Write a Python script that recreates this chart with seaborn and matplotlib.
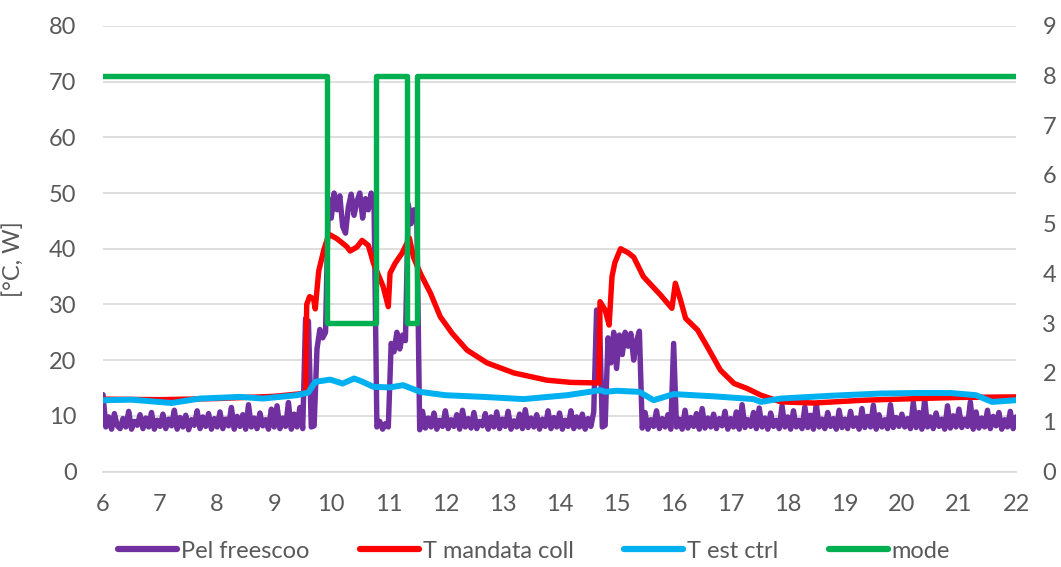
import numpy as np
import pandas as pd
import matplotlib
matplotlib.use("Agg")
import matplotlib.pyplot as plt
import seaborn as sns

# ---------------- data ----------------
# Pel freescoo [W], 3-minute samples, one list per hour (6:00 ... 21:57, then 22:00)
p06 = [13.8, 8.0, 9.8, 7.6, 10.4, 8.2, 7.7, 9.5, 8.0, 10.8, 7.6, 9.0, 8.3, 10.2, 7.7, 9.6, 8.0, 10.6, 7.6, 9.2]
p07 = [8.1, 10.3, 7.7, 9.4, 8.2, 11.0, 7.6, 9.7, 8.0, 10.1, 7.5, 9.3, 8.3, 10.9, 7.7, 9.8, 8.1, 10.4, 7.6, 9.5]
p08 = [8.0, 10.7, 7.7, 9.4, 8.2, 11.5, 7.6, 9.9, 8.1, 10.2, 7.6, 12.0, 8.0, 9.6, 7.7, 10.5, 8.2, 9.3, 7.6, 11.2]
p09 = [8.0, 11.8, 7.7, 9.6, 8.1, 12.4, 7.6, 10.3, 8.0, 11.5, 7.7, 27.5, 27.0, 8.0, 8.2, 22.0, 25.5, 24.0, 25.0, 49.0]
p10 = [45.5, 50.0, 47.0, 49.5, 44.0, 42.8, 47.5, 49.8, 46.0, 48.5, 50.0, 45.5, 49.0, 47.0, 50.0, 48.0, 8.0, 9.0, 7.6, 8.6]
p11 = [8.0, 23.0, 21.5, 25.0, 22.0, 24.5, 23.5, 48.0, 44.5, 47.0, 45.0, 7.5, 10.8, 7.8, 9.6, 8.0, 10.5, 7.6, 9.2, 8.1]
p12 = [10.9, 7.7, 9.3, 8.1, 10.2, 7.6, 11.0, 8.0, 9.5, 7.8, 10.6, 7.7, 9.0, 8.2, 10.4, 7.6, 9.8, 8.0, 10.7, 7.7]
p13 = [9.4, 8.1, 10.8, 7.6, 9.1, 8.0, 10.3, 7.7, 11.1, 7.9, 9.6, 8.0, 10.2, 7.6, 9.4, 8.1, 10.9, 7.7, 9.7, 8.0]
p14 = [10.5, 7.6, 9.2, 8.1, 10.9, 7.7, 9.8, 8.0, 10.3, 7.6, 9.5, 8.1, 10.7, 29.0, 28.0, 8.0, 8.3, 24.0, 19.5, 25.0]
p15 = [18.5, 24.5, 21.0, 25.0, 22.5, 24.8, 20.0, 23.5, 25.2, 7.8, 10.6, 7.6, 9.3, 8.1, 10.9, 7.7, 9.5, 8.0, 10.2, 7.6]
p16 = [23.0, 8.0, 9.4, 7.6, 11.0, 7.8, 9.7, 8.1, 10.4, 7.6, 11.3, 7.8, 9.6, 8.0, 10.3, 7.7, 9.5, 8.2, 10.8, 7.6]
p17 = [9.5, 8.0, 10.7, 7.6, 12.0, 7.9, 9.3, 8.1, 10.6, 7.7, 11.4, 8.0, 9.6, 7.6, 10.5, 8.1, 9.2, 7.7, 11.8, 8.0]
p18 = [9.8, 7.6, 10.9, 8.0, 9.2, 7.7, 11.6, 7.9, 10.1, 7.6, 12.2, 8.0, 9.4, 7.7, 10.6, 8.1, 9.5, 7.6, 11.0, 7.9]
p19 = [9.4, 7.7, 10.8, 8.1, 9.6, 7.6, 11.3, 7.9, 9.9, 8.0, 11.9, 7.6, 10.2, 8.0, 9.3, 7.7, 12.0, 7.9, 9.7, 8.1]
p20 = [10.3, 8.0, 9.5, 7.7, 12.4, 7.9, 10.6, 7.6, 13.0, 8.0, 9.8, 7.7, 10.5, 8.1, 9.4, 7.6, 11.8, 7.8, 10.0, 8.0]
p21 = [11.2, 7.9, 9.4, 8.1, 12.5, 7.6, 10.7, 7.8, 9.6, 8.0, 11.0, 7.7, 9.9, 8.2, 10.6, 7.6, 9.3, 8.0, 10.8, 7.7]
p22 = [9.8]

# T mandata coll [°C]
red_t = [6.0, 7.0, 8.0, 9.0, 9.5, 9.55, 9.57, 9.62, 9.69, 9.72, 9.78, 9.87, 9.96,
         10.1, 10.27, 10.33, 10.45, 10.54, 10.65, 10.74, 10.91, 11.0, 11.03, 11.12,
         11.24, 11.37, 11.44, 11.56, 11.74, 11.91, 12.12, 12.38, 12.73, 13.2, 13.78,
         14.2, 14.69, 14.71, 14.8, 14.87, 14.92, 14.97, 15.07, 15.2, 15.3, 15.47,
         15.77, 15.97, 16.03, 16.12, 16.21, 16.42, 16.59, 16.82, 17.06, 17.29, 17.53,
         17.88, 18.46, 19.33, 20.27, 21.0, 22.0]
red_v = [13.0, 12.9, 13.1, 13.5, 14.0, 14.3, 30.0, 31.4, 31.0, 29.2, 36.0, 39.8, 42.6,
         41.8, 40.4, 39.6, 40.3, 41.5, 40.6, 37.4, 33.2, 29.6, 35.6, 37.4,
         39.2, 41.9, 38.5, 35.6, 32.0, 27.8, 24.8, 21.8, 19.5, 17.7, 16.4,
         16.0, 15.9, 30.5, 29.0, 26.3, 35.0, 37.5, 40.0, 39.3, 38.5, 35.0,
         31.7, 29.3, 33.8, 30.8, 27.5, 25.4, 22.4, 18.2, 15.8, 14.9, 13.7,
         12.5, 12.3, 12.8, 13.1, 13.3, 13.4]

# T est ctrl [°C]
blue_t = [6.0, 6.5, 7.2, 7.7, 8.4, 8.8, 9.4, 9.6, 9.72, 9.98, 10.2, 10.4, 10.53,
          10.74, 11.03, 11.26, 11.56, 12.0, 12.66, 13.37, 14.13, 14.72, 14.8, 15.0,
          15.4, 15.65, 16.0, 16.7, 17.4, 17.53, 17.88, 18.75, 19.63, 20.27, 20.85,
          21.3, 21.58, 22.0]
blue_v = [12.8, 12.9, 12.3, 13.1, 13.4, 13.1, 13.7, 14.2, 16.1, 16.5, 15.8, 16.7, 16.2,
          15.2, 15.1, 15.5, 14.3, 13.7, 13.4, 13.0, 13.7, 14.6, 14.3, 14.5,
          14.3, 12.8, 13.9, 13.5, 13.0, 12.5, 13.1, 13.6, 14.0, 14.1, 14.1,
          13.7, 12.5, 12.8]

# mode [-] (secondary axis)
mode_t = [6.0, 9.92, 9.92, 10.79, 10.79, 11.33, 11.33, 11.51, 11.51, 22.0]
mode_v = [8, 8, 3, 3, 8, 8, 3, 3, 8, 8]

x_ticks = list(range(6, 23))
y_ticks = list(range(0, 81, 10))
y2_ticks = list(range(0, 10))

names = ["Pel freescoo", "T mandata coll", "T est ctrl", "mode"]
colors = ["#7030A0", "#FF0000", "#00B0F0", "#00B050"]

# ---------------- frames ----------------
pel_v = (p06 + p07 + p08 + p09 + p10 + p11 + p12 + p13 + p14 + p15 + p16 + p17
         + p18 + p19 + p20 + p21 + p22)
pel_t = [6.0 + i * 0.05 for i in range(len(pel_v))]
df_pel = pd.DataFrame({"t": pel_t, "v": pel_v})
df_red = pd.DataFrame({"t": red_t, "v": red_v})
df_blue = pd.DataFrame({"t": blue_t, "v": blue_v})
df_mode = pd.DataFrame({"t": mode_t, "v": mode_v})

# ---------------- plot ----------------
sns.set_theme(style="white")
plt.rcParams["font.family"] = ["Lato", "DejaVu Sans"]
FS = 17
TXT = "#595959"
LW = 3.9

fig = plt.figure(figsize=(10.61, 5.67), dpi=100)
ax = fig.add_axes([103 / 1061, 1 - 471.5 / 567, (1016 - 103) / 1061, (471.5 - 26) / 567])
ax2 = ax.twinx()

kw = dict(estimator=None, sort=False, legend=False)
sns.lineplot(data=df_pel, x="t", y="v", ax=ax, color=colors[0], lw=LW, **kw)
sns.lineplot(data=df_red, x="t", y="v", ax=ax, color=colors[1], lw=LW, **kw)
sns.lineplot(data=df_blue, x="t", y="v", ax=ax, color=colors[2], lw=LW + 0.4, **kw)
sns.lineplot(data=df_mode, x="t", y="v", ax=ax2, color=colors[3], lw=LW, **kw)

ax.set_xlim(6, 22)
ax.set_ylim(0, 80)
ax2.set_ylim(0, 9)
ax.set_xticks(x_ticks)
ax.set_yticks(y_ticks)
ax2.set_yticks(y2_ticks)
ax.set_xlabel("")
ax2.set_ylabel("")
ax.set_ylabel("[°C, W]", fontsize=FS, color=TXT)
ax.yaxis.set_label_coords(-(103 - 24) / 913, (471.5 - 259) / 445.5)

ax.grid(axis="y", color="#D9D9D9", lw=1.2)
ax.grid(axis="x", visible=False)
ax.set_axisbelow(True)
for a in (ax, ax2):
    for s in a.spines.values():
        s.set_visible(False)
ax.spines["bottom"].set_visible(True)
ax.spines["bottom"].set_color("#D9D9D9")
ax.spines["bottom"].set_linewidth(1.2)

ax.tick_params(axis="y", length=0, labelsize=FS, colors=TXT, pad=19)
ax.tick_params(axis="x", length=0, labelsize=FS, colors=TXT, pad=16)
ax2.tick_params(axis="y", length=0, labelsize=FS, colors=TXT, pad=19)

handles = [plt.Line2D([], [], color=c, lw=LW + 0.6, solid_capstyle="round") for c in colors]
fig.legend(handles, names, loc="center", bbox_to_anchor=(534 / 1061, 1 - 551 / 567),
           ncol=4, frameon=False, fontsize=FS, labelcolor=TXT,
           handlelength=2.5, handletextpad=0.15, columnspacing=2.15)

fig.savefig("out.png", dpi=100)
